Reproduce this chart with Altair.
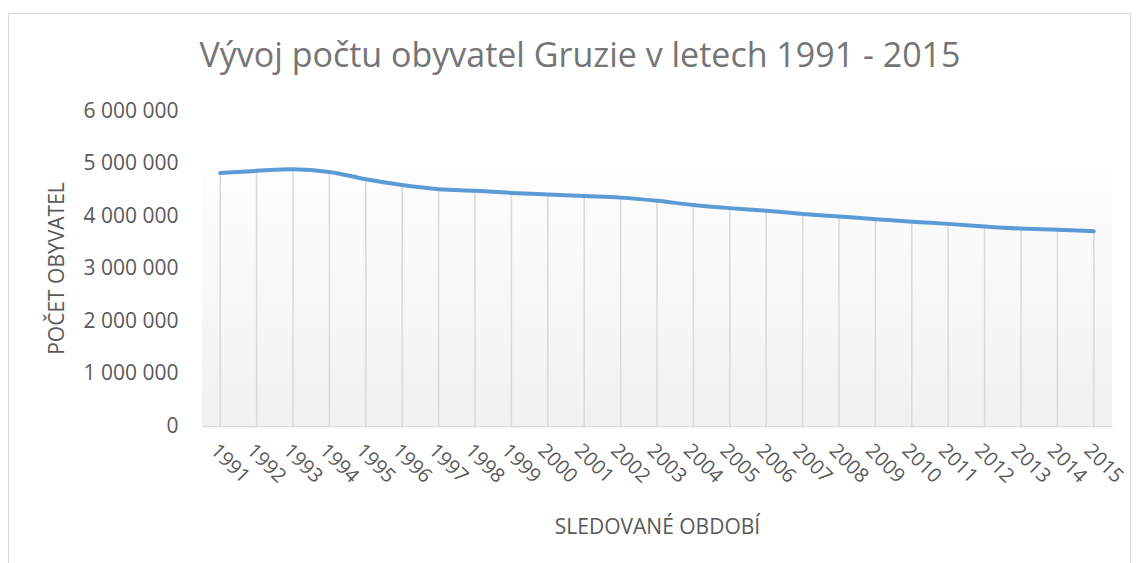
import altair as alt
import pandas as pd

years = ["1991", "1992", "1993", "1994", "1995", "1996", "1997", "1998", "1999",
         "2000", "2001", "2002", "2003", "2004", "2005", "2006", "2007", "2008",
         "2009", "2010", "2011", "2012", "2013", "2014", "2015"]
population = [4820000, 4860000, 4890000, 4840000, 4700000, 4590000, 4510000,
              4480000, 4440000, 4410000, 4380000, 4350000, 4290000, 4210000,
              4150000, 4100000, 4040000, 3990000, 3940000, 3890000, 3850000,
              3800000, 3760000, 3740000, 3710000]
y_ticks = [0, 1000000, 2000000, 3000000, 4000000, 5000000, 6000000]

df = pd.DataFrame({"year": years, "pop": population})

W, H = 910, 315
FONT = "Open Sans"
TXT = "#595959"

x_enc = alt.X(
    "year:O",
    sort=years,
    scale=alt.Scale(type="point", padding=0.5),
    axis=alt.Axis(
        title="SLEDOVANÉ OBDOBÍ",
        labelAngle=45, labelAlign="left", labelBaseline="top",
        labelFont=FONT, labelFontSize=20, labelColor=TXT, labelPadding=14,
        ticks=False, grid=False, domainColor="#d9d9d9", domainWidth=1.5,
        titleFont=FONT, titleFontSize=21, titleColor=TXT, titleFontWeight="normal",
        titleY=107, titleBaseline="alphabetic",
    ),
)
y_enc = alt.Y(
    "pop:Q",
    scale=alt.Scale(domain=[0, 6000000], nice=False),
    axis=alt.Axis(
        title="POČET OBYVATEL",
        values=y_ticks,
        labelExpr="replace(format(datum.value, ','), regexp(',', 'g'), ' ')",
        domain=False, ticks=False, grid=False,
        labelFont=FONT, labelFontSize=21, labelColor=TXT, labelPadding=24,
        titleFont=FONT, titleFontSize=21, titleColor=TXT, titleFontWeight="normal",
        titleX=-145, titleY=157, titleAngle=270, titleAlign="center", titleBaseline="middle",
    ),
)

one = alt.Data(values=[{"a": 1}])

grad = alt.Gradient(
    gradient="linear",
    stops=[alt.GradientStop(color="#ffffff", offset=0),
           alt.GradientStop(color="#ffffff", offset=0.1),
           alt.GradientStop(color="#f1f1f1", offset=1)],
    x1=0, x2=0, y1=0, y2=1,
)

bg = alt.Chart(one).mark_rect(color=grad).encode(
    x=alt.value(0), x2=alt.value(W), y=alt.value(0), y2=alt.value(H)
)
border = alt.Chart(one).mark_rect(fillOpacity=0, stroke="#d9d9d9", strokeWidth=1).encode(
    x=alt.value(-193.5), x2=alt.value(928.5), y=alt.value(-97.5), y2=alt.value(600)
)

base = alt.Chart(df)
drops = base.mark_rule(color="#d9d9d9", strokeWidth=1.5).encode(
    x=x_enc, y=y_enc, y2=alt.datum(0)
)
line = base.mark_line(color="#5B9BD5", strokeWidth=4, interpolate="monotone",
                      strokeCap="round").encode(x=x_enc, y=y_enc)

chart = alt.layer(bg, border, drops, line).properties(
    width=W, height=H,
    autosize=alt.AutoSizeParams(type="none"),
    padding={"left": 194, "top": 103, "right": 19, "bottom": 137},
    title=alt.TitleParams(
        "Vývoj počtu obyvatel Gruzie v letech 1991 - 2015",
        font=FONT, fontSize=34, color="#757575", fontWeight="normal",
        anchor="middle", dx=-77, offset=-88, baseline="alphabetic",
    ),
).configure_view(strokeWidth=0)

chart.save("out.html", embed_options={"renderer": "svg", "actions": False})
